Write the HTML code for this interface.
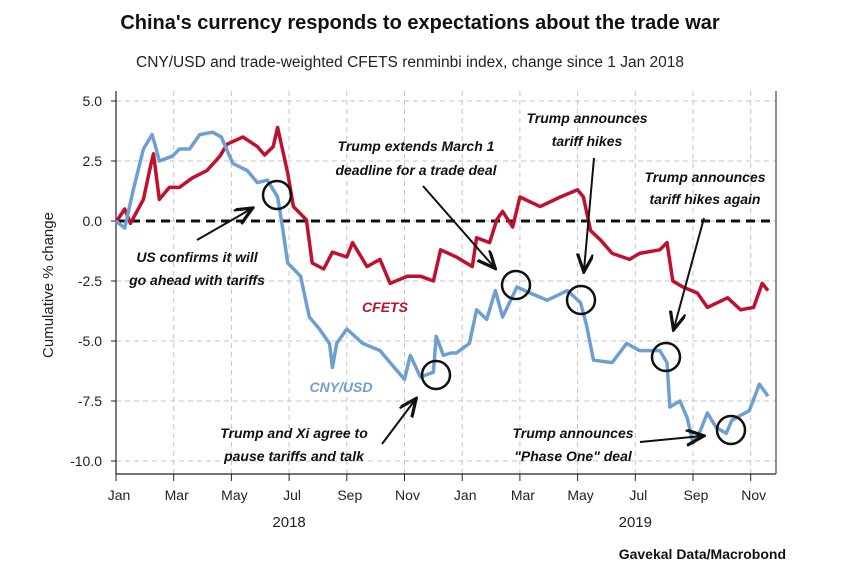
<!DOCTYPE html>
<html><head><meta charset="utf-8"><style>
body{margin:0;background:#fff;width:843px;height:577px;overflow:hidden}
svg text{font-family:"Liberation Sans",sans-serif}
.ann{font-size:14px;font-style:italic;font-weight:bold;fill:#111}
</style></head><body>
<svg id="c" width="843" height="577">
<text x="420" y="29" text-anchor="middle" font-size="20" font-weight="bold" fill="#111">China's currency responds to expectations about the trade war</text>
<text x="410" y="67" text-anchor="middle" font-size="15.5" fill="#222">CNY/USD and trade-weighted CFETS renminbi index, change since 1 Jan 2018</text>
<text transform="translate(53,285) rotate(-90)" text-anchor="middle" font-size="15" fill="#222">Cumulative % change</text>
<text x="786" y="559" text-anchor="end" font-size="14" font-weight="bold" fill="#111">Gavekal Data/Macrobond</text>
<g id="grid"></g><g id="series"></g><g id="ann"></g>
</svg>
<script>
const yTicks=[5,2.5,0,-2.5,-5,-7.5,-10];
const yTickLabels=["5.0","2.5","0.0","-2.5","-5.0","-7.5","-10.0"];
const monthTicks=[0,2,4,6,8,10,12,14,16,18,20,22];
const monthLabels=["Jan","Mar","May","Jul","Sep","Nov","Jan","Mar","May","Jul","Sep","Nov"];
const years=["2018","2019"];
const cnyMonths=[0,0.3,0.6,0.95,1.25,1.35,1.5,1.95,2.2,2.55,2.9,3.35,3.65,4.05,4.55,4.9,5.25,5.6,5.75,5.95,6.4,6.7,7.05,7.4,7.5,7.65,8.0,8.55,9.15,9.5,10.0,10.2,10.55,11.0,11.1,11.35,11.6,11.8,12.25,12.5,12.85,13.15,13.4,13.9,14.35,14.95,15.65,16.1,16.3,16.55,17.2,17.7,18.15,18.85,19.1,19.2,19.55,19.8,20.0,20.25,20.5,20.8,21.15,21.35,21.95,22.3,22.6];
const cnyValues=[0,-0.3,1.3,3.0,3.6,3.2,2.5,2.7,3.0,3.0,3.6,3.7,3.5,2.4,2.1,1.6,1.7,1.0,-0.1,-1.75,-2.3,-4.0,-4.5,-5.1,-6.1,-5.1,-4.5,-5.1,-5.4,-5.9,-6.6,-5.6,-6.5,-6.3,-4.8,-5.6,-5.5,-5.5,-5.1,-3.7,-4.1,-2.9,-4.0,-2.75,-3.0,-3.3,-2.9,-3.4,-4.3,-5.8,-5.9,-5.1,-5.4,-5.4,-5.9,-7.75,-7.5,-8.2,-9.25,-8.75,-8.0,-8.6,-8.85,-8.3,-7.9,-6.8,-7.3];
const cfetsMonths=[0,0.3,0.5,0.95,1.2,1.3,1.5,1.85,2.2,2.65,3.15,3.6,3.85,4.4,4.9,5.15,5.45,5.6,5.95,6.15,6.6,6.8,7.2,7.5,8.0,8.2,8.7,9.15,9.5,10.1,10.55,11.0,11.25,11.8,12.35,12.5,12.95,13.2,13.4,13.75,14.0,14.7,15.4,16.0,16.2,16.45,16.8,17.2,17.8,18.15,18.85,19.1,19.3,19.65,20.15,20.5,21.2,21.65,22.1,22.4,22.6];
const cfetsValues=[-0.05,0.5,-0.1,0.9,2.3,2.8,0.9,1.4,1.4,1.8,2.1,2.7,3.2,3.5,3.1,2.75,3.1,3.9,2.0,0.6,0.05,-1.75,-2.0,-1.3,-1.5,-0.9,-1.9,-1.6,-2.6,-2.3,-2.3,-2.5,-1.2,-1.5,-1.9,-0.7,-0.9,0.05,0.4,-0.25,1.0,0.6,1.0,1.3,1.0,-0.4,-0.8,-1.35,-1.6,-1.35,-1.2,-0.9,-2.5,-2.75,-3.0,-3.6,-3.2,-3.7,-3.6,-2.6,-2.9];
const X0=116,X1=776,Y0=474,TOP=91;
const xS=m=>116+m*28.85;
const yS=v=>221-v*24;
const NS="http://www.w3.org/2000/svg";
function mk(tag,attrs,parent,txt){const e=document.createElementNS(NS,tag);for(const k in attrs)e.setAttribute(k,attrs[k]);if(txt!==undefined)e.textContent=txt;parent.appendChild(e);return e;}
const g=document.getElementById('grid');
yTicks.forEach((v,i)=>{
 const l=mk('line',{x1:X0,x2:X1,y1:yS(v),y2:yS(v),stroke:'#c4c4c4','stroke-dasharray':'5,4','stroke-width':1},g);
 
 
 mk('line',{x1:X0-5,x2:X0,y1:yS(v),y2:yS(v),stroke:'#222'},g);
 const t=mk('text',{x:102,y:yS(v)+5,'text-anchor':'end','font-size':14,fill:'#222'},g,yTickLabels[i]);
 
 
});
monthTicks.forEach((m,i)=>{
 const l=mk('line',{x1:xS(m),x2:xS(m),y1:TOP,y2:Y0,stroke:'#c4c4c4','stroke-dasharray':'5,4'},g);
 
 
 mk('line',{x1:xS(m),x2:xS(m),y1:Y0,y2:Y0+7,stroke:'#222'},g);
 const t=mk('text',{x:xS(m)+3,y:500,'text-anchor':'middle','font-size':14,fill:'#222'},g,monthLabels[i]);
 
 
});
years.forEach((y,i)=>{
 const t=mk('text',{x:xS(6+12*i),y:527,'text-anchor':'middle','font-size':15,fill:'#222'},g,y);
 
 
});
mk('line',{x1:X0,x2:X0,y1:TOP,y2:Y0,stroke:'#222','stroke-width':1.2},g);
mk('line',{x1:X0,x2:X1,y1:Y0,y2:Y0,stroke:'#222','stroke-width':1.2},g);
mk('line',{x1:X1,x2:X1,y1:TOP,y2:Y0,stroke:'#222','stroke-width':1},g);
const zl=mk('line',{x1:X0,x2:X1,y1:yS(0),y2:yS(0),stroke:'#111','stroke-width':3,'stroke-dasharray':'9,6'},g);


const s=document.getElementById('series');
function path(ms,vs,col,name){
 const d=ms.map((m,i)=>(i?'L':'M')+xS(m).toFixed(1)+','+yS(vs[i]).toFixed(1)).join('');
 const p=mk('path',{d:d,fill:'none',stroke:col,'stroke-width':3.5,'stroke-linejoin':'round'},s);
 
 
}
path(cfetsMonths,cfetsValues,'#c0102e','cfets-line');
path(cnyMonths,cnyValues,'#6f9fd2','cny-usd-line');
</script>
<svg style="position:absolute;left:0;top:0" width="843" height="577">
<defs><marker id="ah" markerWidth="10" markerHeight="10" refX="8" refY="4" orient="auto"><path d="M0,0 L9,4 L0,8" fill="none" stroke="#111" stroke-width="1.6"/></marker></defs>
<g fill="none" stroke="#111" stroke-width="2.5">
<circle cx="277" cy="195" r="14"/>
<circle cx="436" cy="375" r="14"/>
<circle cx="516" cy="285" r="14"/>
<circle cx="581" cy="300" r="14"/>
<circle cx="666" cy="357" r="14"/>
<circle cx="731" cy="430" r="14"/>
</g>
<g stroke="#111" stroke-width="2" marker-end="url(#ah)">
<line x1="197" y1="240" x2="251" y2="209"/>
<line x1="382" y1="444" x2="415" y2="400"/>
<line x1="423" y1="186" x2="494" y2="267"/>
<line x1="594" y1="158" x2="584" y2="270"/>
<line x1="704" y1="218" x2="674" y2="328"/>
<line x1="640" y1="442" x2="702" y2="436"/>
</g>
<g class="ann" text-anchor="middle">
<text x="416" y="151">Trump extends March 1</text>
<text x="416" y="175">deadline for a trade deal</text>
<text x="587" y="123">Trump announces</text>
<text x="587" y="146">tariff hikes</text>
<text x="705" y="182">Trump announces</text>
<text x="705" y="204">tariff hikes again</text>
<text x="197" y="262">US confirms it will</text>
<text x="197" y="285">go ahead with tariffs</text>
<text x="294" y="438">Trump and Xi agree to</text>
<text x="294" y="461">pause tariffs and talk</text>
<text x="573" y="438">Trump announces</text>
<text x="573" y="461">"Phase One" deal</text>
<text x="385" y="312" style="fill:#c0102e">CFETS</text>
<text x="341" y="392" style="fill:#6f9fd2">CNY/USD</text>
</g>
</svg>
</body></html>
